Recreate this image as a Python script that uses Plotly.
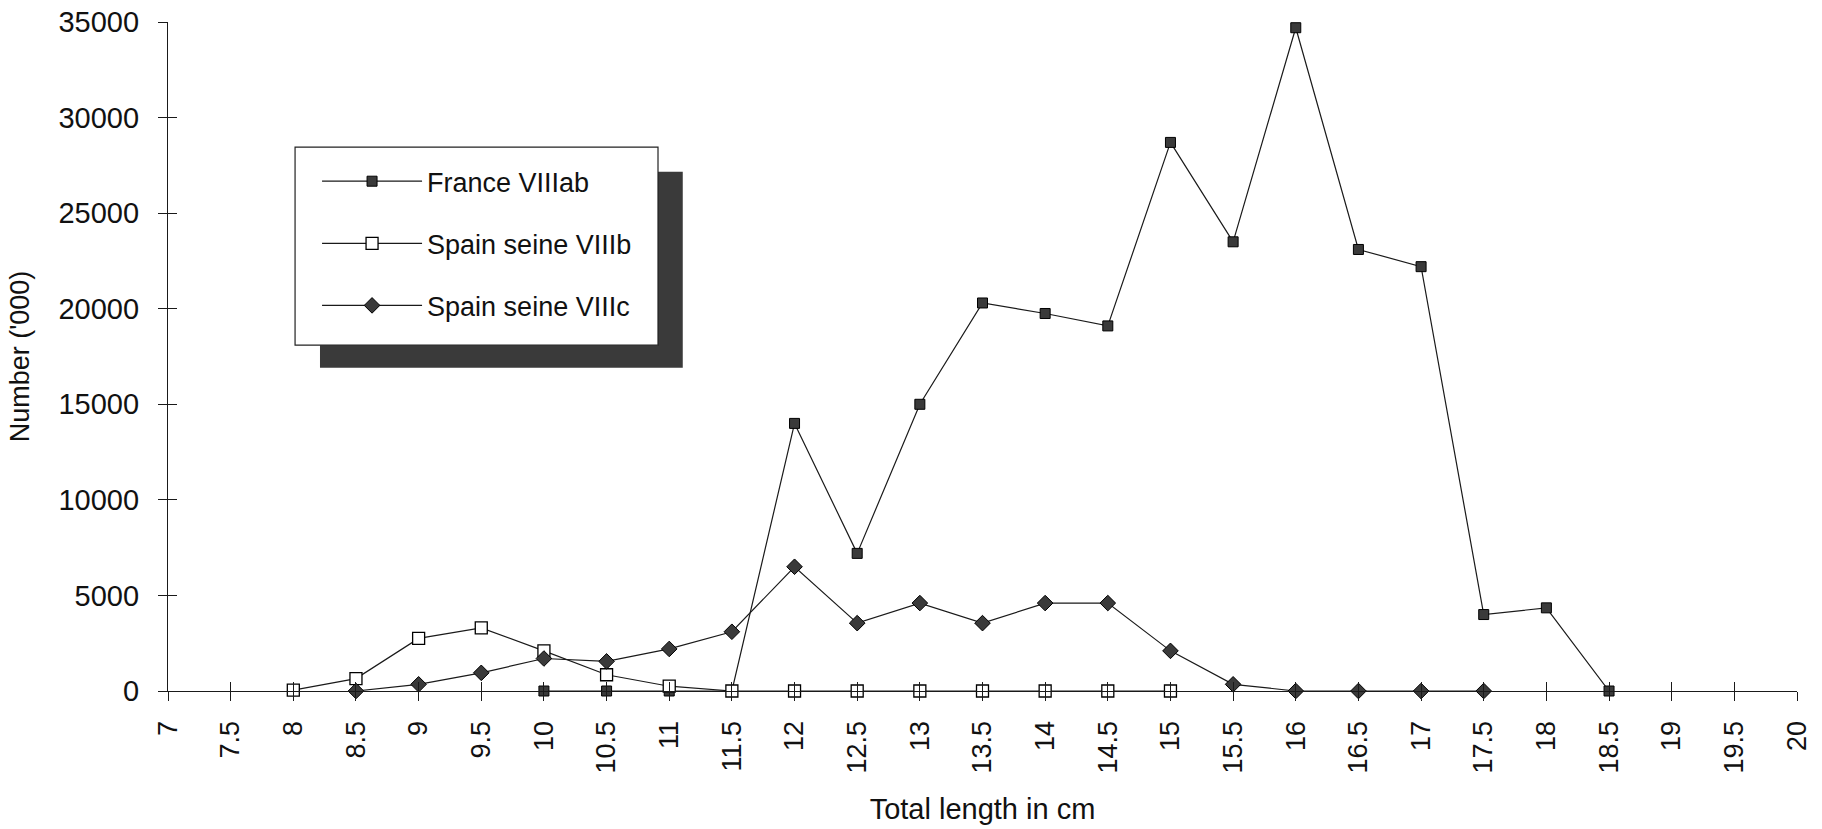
import plotly.graph_objects as go

# ---- data ----
length_france = [10, 10.5, 11, 11.5, 12, 12.5, 13, 13.5, 14, 14.5, 15, 15.5, 16, 16.5, 17, 17.5, 18, 18.5]
france_viiiab = [0, 0, 0, 0, 14000, 7200, 15000, 20300, 19750, 19100, 28700, 23500, 34700, 23100, 22200, 4000, 4350, 0]

length_viiib = [8, 8.5, 9, 9.5, 10, 10.5, 11, 11.5, 12, 12.5, 13, 13.5, 14, 14.5, 15]
spain_viiib = [50, 650, 2750, 3300, 2100, 850, 250, 0, 0, 0, 0, 0, 0, 0, 0]

length_viiic = [8.5, 9, 9.5, 10, 10.5, 11, 11.5, 12, 12.5, 13, 13.5, 14, 14.5, 15, 15.5, 16, 16.5, 17, 17.5]
spain_viiic = [0, 350, 950, 1700, 1550, 2200, 3100, 6500, 3550, 4600, 3550, 4600, 4600, 2100, 350, 0, 0, 0, 0]

x_ticks = [7, 7.5, 8, 8.5, 9, 9.5, 10, 10.5, 11, 11.5, 12, 12.5, 13, 13.5, 14, 14.5,
           15, 15.5, 16, 16.5, 17, 17.5, 18, 18.5, 19, 19.5, 20]
x_tick_text = ["7", "7.5", "8", "8.5", "9", "9.5", "10", "10.5", "11", "11.5", "12", "12.5",
               "13", "13.5", "14", "14.5", "15", "15.5", "16", "16.5", "17", "17.5", "18",
               "18.5", "19", "19.5", "20"]
y_ticks = [0, 5000, 10000, 15000, 20000, 25000, 30000, 35000]
y_tick_text = ["0", "5000", "10000", "15000", "20000", "25000", "30000", "35000"]

FONT = "Liberation Sans, Arial, Helvetica, sans-serif"
INK = "#1a1a1a"
MARK = "#3a3a3a"

fig = go.Figure()
fig.add_trace(go.Scatter(
    x=length_france, y=france_viiiab, name="France VIIIab", mode="lines+markers",
    line=dict(color=INK, width=1.2),
    marker=dict(symbol="square", size=10, color=MARK, line=dict(color="#000", width=1)),
    cliponaxis=False, legendgroup="a"))
fig.add_trace(go.Scatter(
    x=length_viiib, y=spain_viiib, name="Spain seine VIIIb", mode="lines+markers",
    line=dict(color=INK, width=1.2),
    marker=dict(symbol="square", size=12, color="white", line=dict(color="#000", width=1.3)),
    cliponaxis=False, legendgroup="b"))
fig.add_trace(go.Scatter(
    x=length_viiic, y=spain_viiic, name="Spain seine VIIIc", mode="lines+markers",
    line=dict(color=INK, width=1.2),
    marker=dict(symbol="diamond", size=12, color=MARK, line=dict(color="#000", width=1)),
    cliponaxis=False, legendgroup="c"))

axis_common = dict(showgrid=False, zeroline=False, showline=True, linecolor=INK, linewidth=1.2,
                   tickcolor=INK, tickwidth=1.2, ticklen=9, automargin=False)

fig.update_layout(
    width=1822, height=829,
    margin=dict(l=168, r=25, t=22, b=138),
    paper_bgcolor="white", plot_bgcolor="white",
    font=dict(family=FONT, size=27, color="#111"),
    xaxis=dict(range=[7, 20], tickvals=x_ticks, ticktext=x_tick_text, tickangle=-90,
               ticks="outside", ticklabelstandoff=9, tickfont=dict(size=27),
               title=dict(text="Total length in cm", font=dict(size=29), standoff=26),
               **axis_common),
    yaxis=dict(range=[0, 35000], tickvals=y_ticks, ticktext=y_tick_text,
               ticks="outside", ticklabelstandoff=13, tickfont=dict(size=29),
               title=dict(text="Number ('000)", font=dict(size=27), standoff=20),
               **axis_common),
    xaxis2=dict(overlaying="x", matches="x", anchor="y", side="bottom", range=[7, 20],
                tickvals=x_ticks, ticks="inside", showticklabels=False, **axis_common),
    yaxis2=dict(overlaying="y", matches="y", anchor="x", side="left", range=[0, 35000],
                tickvals=y_ticks, ticks="inside", showticklabels=False, **axis_common),
    legend=dict(x=0.0915, y=0.798, xanchor="left", yanchor="top",
                bgcolor="rgba(0,0,0,0)", borderwidth=0,
                font=dict(size=27, family=FONT, color="#111"),
                traceorder="grouped", tracegroupgap=24, itemwidth=100),
    showlegend=True,
)

# dummy trace to activate overlay axes (no visible marks)
fig.add_trace(go.Scatter(x=[None], y=[None], xaxis="x2", yaxis="y2", showlegend=False,
                         hoverinfo="skip"))

# legend drop shadow and frame
fig.add_shape(type="rect", xref="paper", yref="paper",
              x0=0.0933, x1=0.316, y0=0.483, y1=0.776,
              fillcolor="#3a3a3a", line=dict(width=0), layer="above")
fig.add_shape(type="rect", xref="paper", yref="paper",
              x0=0.078, x1=0.3008, y0=0.517, y1=0.813,
              fillcolor="white", line=dict(color="#222", width=1.2), layer="above")

fig.write_html("out.html", config={"displayModeBar": False},
               post_script="document.body.style.margin='0';")
